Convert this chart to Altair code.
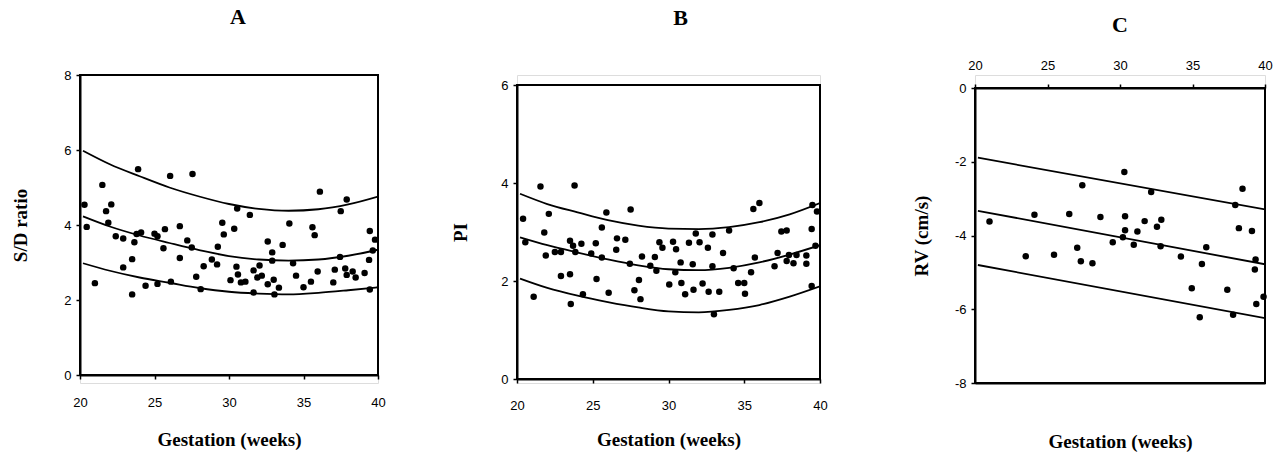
import altair as alt
import pandas as pd

# ---------------- Panel A : S/D ratio ----------------
a_x = [20.3, 20.45, 21.0, 21.5, 21.75, 22.1, 21.9, 22.4, 22.9, 22.9, 23.5, 23.5, 23.65, 23.8, 23.9,
       24.1, 24.4, 25.0, 25.2, 25.2, 25.7, 25.6, 26.05, 26.1, 26.7, 26.7, 27.2, 27.5, 27.55, 27.8,
       28.1, 28.3, 28.85, 29.2, 29.25, 29.55, 29.65, 30.1, 30.35, 30.5, 30.55, 30.6, 30.8, 31.1,
       31.4, 31.65, 31.65, 31.9, 32.05, 32.2, 32.6, 32.6, 32.9, 32.9, 33.0, 33.05, 33.35, 33.6,
       34.05, 34.3, 34.5, 35.0, 35.5, 35.6, 35.75, 35.95, 36.1, 37.0, 37.1, 37.5, 37.45, 37.8,
       37.9, 37.9, 38.3, 38.5, 39.1, 39.4, 39.45, 39.45, 39.65, 39.8]
a_y = [4.54, 3.95, 2.45, 5.07, 4.37, 4.55, 4.06, 3.70, 3.64, 2.87, 3.09, 2.15, 3.54, 3.76, 5.49,
       3.80, 2.38, 3.77, 3.70, 2.43, 3.89, 3.38, 5.31, 2.49, 3.12, 3.97, 3.59, 3.40, 5.36, 2.62,
       2.29, 2.90, 3.08, 2.95, 3.42, 4.06, 3.75, 2.53, 3.90, 2.89, 4.44, 2.68, 2.47, 2.49,
       4.27, 2.20, 2.79, 2.60, 2.92, 2.65, 3.56, 2.42, 3.27, 3.05, 2.54, 2.15, 2.33, 3.47,
       4.04, 2.98, 2.65, 2.34, 2.49, 3.94, 3.73, 2.76, 4.89, 2.47, 2.81, 4.37, 3.15, 2.84,
       4.68, 2.67, 2.76, 2.60, 2.72, 3.07, 3.84, 2.28, 3.32, 3.61]

curve_x = [20.2, 22, 24, 26, 28, 30, 32, 34, 36, 38, 40]
a_upper = [5.98, 5.62, 5.30, 5.00, 4.76, 4.56, 4.43, 4.38, 4.42, 4.55, 4.76]
a_mid = [4.23, 3.96, 3.72, 3.52, 3.33, 3.17, 3.08, 3.05, 3.08, 3.18, 3.34]
a_lower = [2.98, 2.78, 2.60, 2.46, 2.32, 2.22, 2.17, 2.15, 2.19, 2.26, 2.34]

# ---------------- Panel B : PI ----------------
b_x = [20.4, 20.55, 21.1, 21.55, 21.8, 21.9, 22.1, 22.5, 22.9, 22.9, 23.5, 23.5, 23.55, 23.7, 23.8,
       23.85, 24.25, 24.35, 24.9, 25.2, 25.25, 25.6, 25.6, 25.9, 26.05, 26.55, 26.6, 27.15, 27.45,
       27.5, 27.75, 28.05, 28.15, 28.25, 28.8, 29.1, 29.2, 29.4, 29.6, 30.05, 30.3, 30.45, 30.5,
       30.8, 30.85, 31.1, 31.35, 31.6, 31.65, 31.8, 32.05, 32.25, 32.6, 32.65, 32.9, 32.9, 33.0,
       33.35, 33.6, 34.0, 34.3, 34.6, 35.0, 35.05, 35.45, 35.6, 35.7, 36.0, 37.0, 37.2, 37.45,
       37.8, 37.8, 37.95, 38.25, 38.45, 39.1, 39.1, 39.45, 39.45, 39.5, 39.7, 39.8]
b_y = [3.27, 2.79, 1.68, 3.93, 2.99, 2.52, 3.37, 2.59, 2.59, 2.10, 2.82, 2.14, 1.53, 2.72, 3.95,
       2.59, 2.76, 1.73, 2.56, 2.77, 2.04, 2.48, 3.09, 3.40, 1.76, 2.64, 2.87, 2.84, 2.35,
       3.46, 1.81, 2.02, 1.63, 2.50, 2.31, 2.49, 2.21, 2.79, 2.68, 1.93, 2.80, 2.18, 2.65,
       2.38, 1.96, 1.73, 2.78, 2.34, 1.82, 2.97, 2.79, 1.95, 2.68, 1.78, 2.95, 2.30, 1.32,
       1.78, 2.57, 3.03, 2.26, 1.96, 1.96, 1.74, 2.18, 3.47, 2.48, 3.59, 2.30, 2.57, 3.01,
       3.03, 2.41, 2.53, 2.36, 2.53, 2.52, 2.35, 3.06, 1.90, 3.55, 2.72, 3.42]
b_upper = [3.78, 3.57, 3.40, 3.24, 3.13, 3.07, 3.06, 3.10, 3.20, 3.36, 3.59]
b_mid = [2.89, 2.73, 2.58, 2.44, 2.32, 2.24, 2.22, 2.27, 2.38, 2.54, 2.73]
b_lower = [2.05, 1.86, 1.70, 1.57, 1.46, 1.38, 1.36, 1.41, 1.51, 1.68, 1.89]

# ---------------- Panel C : RV ----------------
c_x = [21.0, 23.5, 24.1, 25.45, 26.5, 27.05, 27.4, 27.3, 28.1, 28.65, 29.5, 30.3, 30.2, 30.35,
       30.35, 30.95, 31.2, 31.7, 32.15, 32.55, 32.85, 32.8, 34.2, 34.95, 35.65, 35.5, 35.95,
       37.4, 37.8, 37.95, 38.2, 38.45, 39.1, 39.35, 39.3, 39.4, 39.9]
c_y = [-3.62, -4.56, -3.44, -4.52, -3.42, -4.33, -2.64, -4.70, -4.75, -3.50, -4.18, -2.28, -4.05,
       -3.48, -3.86, -4.25, -3.89, -3.61, -2.82, -3.76, -3.57, -4.29, -4.57, -5.43, -4.77, -6.22,
       -4.32, -5.47, -6.15, -3.17, -3.80, -2.73, -3.88, -4.65, -4.92, -5.86, -5.66]
c_line_x = [20.2, 40]
c_upper = [-1.89, -3.29]
c_mid = [-3.33, -4.78]
c_lower = [-4.80, -6.24]

SERIF = "Liberation Serif"
SANS = "Liberation Sans"
H = 308  # common group height; each panel's plot box sits inside it


def curves_df(xs, up, mid, lo):
    rows = []
    for name, ys in (("upper", up), ("mid", mid), ("lower", lo)):
        for x, y in zip(xs, ys):
            rows.append({"x": x, "y": y, "band": name})
    return pd.DataFrame(rows)


def axis_common(**kw):
    base = dict(
        labelFont=SANS, labelFontSize=13, labelColor="black",
        titleFont=SERIF, titleFontSize=19, titleFontWeight="bold", titleColor="black",
        domainColor="black", domainWidth=2, tickColor="black", tickSize=4, tickWidth=1.5,
        grid=False, labelFlush=False, labelPadding=5,
    )
    base.update(kw)
    return alt.Axis(**base)


def frame(w, top, bottom):
    return alt.Chart(pd.DataFrame({"f": [0]})).mark_rect(
        filled=False, stroke="black", strokeWidth=2
    ).encode(x=alt.value(0), x2=alt.value(w), y=alt.value(top), y2=alt.value(bottom))


def panel(letter, xs, ys, cx, up, mid, lo, ydom, yvals, ytitle, ypad, w, top, bottom,
          xlabpad, xtitlepad, toff, tdx):
    pts = pd.DataFrame({"x": xs, "y": ys})
    cdf = curves_df(cx, up, mid, lo)
    xenc = alt.X("x:Q", scale=alt.Scale(domain=[20, 40], nice=False, zero=False),
                 axis=axis_common(values=[20, 25, 30, 35, 40], title="Gestation (weeks)",
                                  titlePadding=xtitlepad, labelPadding=xlabpad,
                                  offset=-(H - bottom)))
    yenc = alt.Y("y:Q", scale=alt.Scale(domain=ydom, nice=False, zero=False, range=[bottom, top]),
                 axis=axis_common(values=yvals, title=ytitle, titlePadding=ypad))
    p = alt.Chart(pts).mark_circle(size=42, color="black", opacity=1).encode(x=xenc, y=yenc)
    l = alt.Chart(cdf).mark_line(color="black", strokeWidth=1.8, interpolate="monotone",
                                 clip=True).encode(x=xenc, y=yenc, detail="band:N")
    return alt.layer(frame(w, top, bottom), l, p).properties(
        width=w, height=H,
        title=alt.TitleParams(letter, font=SERIF, fontSize=22, fontWeight="bold",
                              color="black", offset=toff, frame="group", dx=tdx, anchor="middle"),
    )


chart_a = panel("A", a_x, a_y, curve_x, a_upper, a_mid, a_lower, [0, 8], [0, 2, 4, 6, 8],
                "S/D ratio", 33, 298, 0, 300, 17, 21, 40, 9)
chart_b = panel("B", b_x, b_y, curve_x, b_upper, b_mid, b_lower, [0, 6], [0, 2, 4, 6],
                "PI", 30, 303, 10, 304, 16, 18, 45, 12)

# Panel C with labels on top and title at bottom
C_TOP, C_BOT, C_W = 13, 308, 290
c_pts = pd.DataFrame({"x": c_x, "y": c_y})
c_cdf = curves_df(c_line_x, c_upper, c_mid, c_lower)
c_xscale = alt.Scale(domain=[20, 40], nice=False, zero=False)
c_yenc = alt.Y("y:Q", scale=alt.Scale(domain=[-8, 0], nice=False, zero=False, range=[C_BOT, C_TOP]),
               axis=axis_common(values=[0, -2, -4, -6, -8], title="RV (cm/s)", titlePadding=23,
                                labelExpr="'' + datum.value"))
c_p = alt.Chart(c_pts).mark_circle(size=42, color="black", opacity=1).encode(
    x=alt.X("x:Q", scale=c_xscale,
            axis=axis_common(values=[20, 25, 30, 35, 40], title=None, orient="top",
                             labelPadding=12, offset=-C_TOP)),
    y=c_yenc)
c_l = alt.Chart(c_cdf).mark_line(color="black", strokeWidth=1.8, clip=True).encode(
    x=alt.X("x:Q", scale=c_xscale,
            axis=axis_common(title="Gestation (weeks)", orient="bottom", labels=False,
                             ticks=False, titlePadding=49)),
    y=c_yenc, detail="band:N")
chart_c = alt.layer(frame(C_W, C_TOP, C_BOT), c_p, c_l).resolve_axis(x="independent").properties(
    width=C_W, height=H,
    title=alt.TitleParams("C", font=SERIF, fontSize=22, fontWeight="bold", color="black",
                          offset=22, frame="group", anchor="middle"),
)

left = alt.hconcat(chart_a, chart_b, spacing=65)
chart = alt.hconcat(left, chart_c, spacing=83).properties(
    padding={"left": 11, "top": 5, "right": 0, "bottom": 0},
).configure_view(stroke=None).configure(background="white")

chart.save("out.html", embed_options={"renderer": "svg", "actions": False})
